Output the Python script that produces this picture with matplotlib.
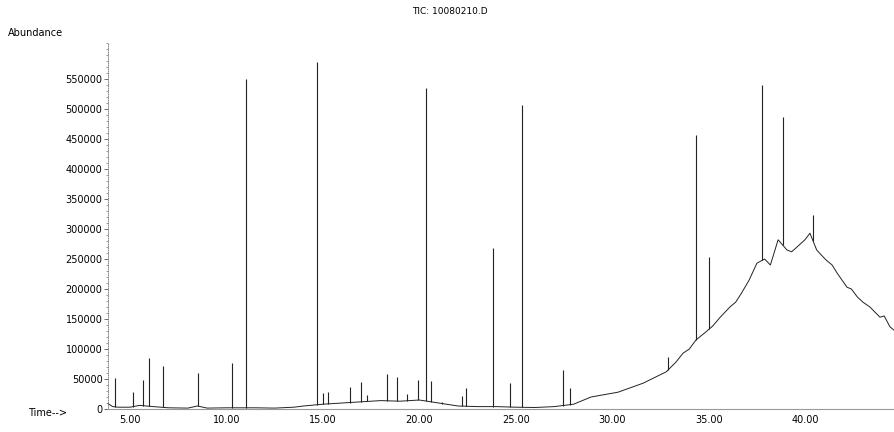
import numpy as np
import matplotlib
matplotlib.use("Agg")
import matplotlib.pyplot as plt
from matplotlib.ticker import MultipleLocator, FuncFormatter

title = "TIC: 10080210.D"

# baseline / hump trace (time in min, abundance)
base_t = [3.86, 4.1, 4.4, 5.0, 5.5, 6.2, 7.0, 8.0, 8.5, 9.0, 10.0, 11.5, 12.5, 13.5,
          14.0, 15.0, 16.0, 17.0, 18.0, 19.0, 20.0, 21.0, 22.0, 23.0, 24.0, 25.0,
          26.0, 27.0, 28.0, 28.9, 30.3, 31.6, 32.8, 33.3, 33.67, 34.0, 34.34, 34.8,
          35.2, 35.6, 36.1, 36.4, 36.7, 37.1, 37.5, 37.9, 38.2, 38.6, 39.06, 39.3,
          39.58, 39.99, 40.25, 40.6, 40.8, 41.1, 41.4, 41.65, 42.17, 42.4, 42.7,
          43.0, 43.36, 43.88, 44.1, 44.4, 44.66]
base_y = [9000, 4000, 3000, 3000, 6000, 4000, 2000, 1500, 5000, 1500, 2000, 2000,
          1500, 3000, 5000, 8000, 10000, 12000, 14000, 13000, 15000, 10000, 5000,
          4000, 4000, 3000, 2500, 4000, 8000, 20000, 28000, 43000, 62000, 78000,
          93000, 100000, 115000, 127000, 138000, 153000, 170000, 178000, 193000,
          215000, 243000, 250000, 240000, 282000, 265000, 262000, 270000, 282000,
          293000, 265000, 258000, 248000, 240000, 227000, 203000, 200000, 187000,
          178000, 170000, 153000, 155000, 137000, 130000]

# peaks (retention time, apex abundance)
peak_t = [4.22, 5.16, 5.67, 5.98, 6.71, 8.53, 10.29, 11.01, 14.69, 15.0, 15.26,
          16.4, 16.97, 17.29, 18.32, 18.84, 19.36, 19.93, 20.35, 20.6, 21.17,
          22.2, 22.42, 23.82, 24.7, 25.32, 27.45, 27.81, 32.9, 34.34, 35.02,
          37.76, 38.85, 40.41]
peak_h = [52000, 28000, 48000, 85000, 72000, 60000, 77000, 550000, 578000, 27000,
          28000, 37000, 45000, 23000, 58000, 53000, 25000, 48000, 535000, 47000,
          12000, 22000, 35000, 268000, 43000, 507000, 65000, 35000, 87000, 457000,
          253000, 540000, 487000, 323000]

x_ticks = [5, 10, 15, 20, 25, 30, 35, 40]
y_ticks = list(range(0, 550001, 50000))

fig = plt.figure(figsize=(8.95, 4.32), dpi=100)
ax = fig.add_axes([108/895, 23/432, 1 - 108/895, (409-43)/432])

ink = "#222222"
ax.plot(base_t, base_y, color=ink, lw=0.7)
pk_base = np.interp(peak_t, base_t, base_y)
ax.vlines(peak_t, pk_base, peak_h, color=ink, lw=0.8)

ax.set_xlim(3.86, 44.66)
ax.set_ylim(0, 610000)

for s in ["top", "right"]:
    ax.spines[s].set_visible(False)
ax.spines["left"].set_color("#777777")
ax.spines["left"].set_linewidth(0.6)
ax.spines["left"].set_linestyle((0, (1, 1.5)))
ax.spines["bottom"].set_color("#999999")
ax.spines["bottom"].set_linewidth(0.8)

ax.set_xticks(x_ticks)
ax.xaxis.set_major_formatter(FuncFormatter(lambda v, p: f"{v:.2f}"))
ax.set_yticks(y_ticks)
ax.yaxis.set_minor_locator(MultipleLocator(10000))
ax.yaxis.set_major_formatter(FuncFormatter(lambda v, p: f"{int(v)}"))
ax.tick_params(axis="x", length=0, pad=4, labelsize=7)
ax.tick_params(axis="y", which="major", length=3, width=0.6, color="#555555",
               labelsize=7, pad=1)
ax.tick_params(axis="y", which="minor", length=1.5, width=0.5, color="#777777")

fig.text(450/895, 1 - 12/432, title, ha="center", va="center", fontsize=6.5)
fig.text(8/895, 1 - 33/432, "Abundance", ha="left", va="center", fontsize=7)
fig.text(28/895, 1 - 413/432, "Time-->", ha="left", va="center", fontsize=7)

fig.savefig("out.png", dpi=100)
